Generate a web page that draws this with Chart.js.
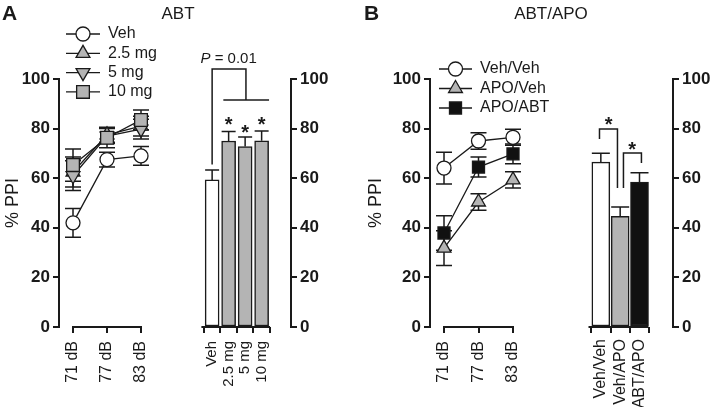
<!DOCTYPE html>
<html>
<head>
<meta charset="utf-8">
<script src="https://cdn.jsdelivr.net/npm/chart.js@4.4.1/dist/chart.umd.min.js"></script>
<style>
  body { margin: 0; background: #fff; }
  #wrap { position: relative; width: 712px; height: 408px; }
  #wrap canvas { position: absolute; left: 0; top: 0; }
</style>
</head>
<body>
<div id="wrap">
  <canvas id="abtLine" width="712" height="408"></canvas>
  <canvas id="abtBar" width="712" height="408"></canvas>
  <canvas id="apoLine" width="712" height="408"></canvas>
  <canvas id="apoBar" width="712" height="408"></canvas>
</div>
<script>
// tick labels
const dbLevels = ['71 dB', '77 dB', '83 dB'];
const doseLabels = ['Veh', '2.5 mg', '5 mg', '10 mg'];
const groupLabels = ['Veh/Veh', 'Veh/APO', 'ABT/APO'];
const pctTicks = [0, 20, 40, 60, 80, 100];

// A: % PPI per prepulse level (mean, SEM)
const vehPPI = [42, 67.5, 69];
const vehSEM = [5.8, 3, 3.8];
const mg25PPI = [62.5, 77.5, 81];
const mg25SEM = [6, 3, 4];
const mg5PPI = [61, 77, 79.8];
const mg5SEM = [6, 3, 4];
const mg10PPI = [65.3, 76.3, 83.5];
const mg10SEM = [6.5, 4, 4];

// A: mean % PPI over levels
const doseMean = [59.3, 75, 72.8, 75.1];
const doseSEM = [4, 3.8, 3.8, 3.9];

// B: % PPI per prepulse level
const vehVehPPI = [64.1, 75, 76.5];
const vehVehSEM = [6.4, 3.3, 3.2];
const apoVehPPI = [31.8, 50.4, 59.3];
const apoVehSEM = [7, 3.3, 3.3];
const apoAbtPPI = [37.9, 64.5, 69.8];
const apoAbtSEM = [7, 4, 4];

// B: mean % PPI
const groupMean = [66.5, 44.6, 58.4];
const groupSEM = [3.6, 3.8, 3.8];

const FONT = "'Liberation Sans', Arial, sans-serif";
const INK = '#1a1a1a';
const GRAY = '#b4b4b4';
const BLACK = '#111111';

const pts = arr => arr.map((v, i) => ({ x: i, y: v }));

// error bars: line charts get both whiskers behind the markers, bars only the upper one
function drawErrors(chart, kind) {
    const ctx = chart.ctx;
    const ys = chart.scales.y;
    chart.data.datasets.forEach((ds, i) => {
        const meta = chart.getDatasetMeta(i);
        if (!ds.sem || meta.type !== kind) return;
        ctx.save();
        ctx.strokeStyle = INK;
        ctx.lineWidth = 1.5;
        meta.data.forEach((el, j) => {
            const v = ds.data[j].y, e = ds.sem[j], half = ds.capHalf;
            const top = ys.getPixelForValue(v + e);
            const bot = kind === 'bar' ? el.y : ys.getPixelForValue(v - e);
            ctx.beginPath();
            ctx.moveTo(el.x, bot);
            ctx.lineTo(el.x, top);
            ctx.moveTo(el.x - half, top);
            ctx.lineTo(el.x + half, top);
            if (kind === 'line') {
                ctx.moveTo(el.x - half, bot);
                ctx.lineTo(el.x + half, bot);
            }
            ctx.stroke();
        });
        ctx.restore();
    });
}
const errorBars = {
    id: 'errorBars',
    beforeDatasetsDraw(chart) { drawErrors(chart, 'line'); },
    afterDatasetsDraw(chart) { drawErrors(chart, 'bar'); }
};

// legend with the line running through the marker
const lineKey = {
    id: 'lineKey',
    afterDraw(chart, args, o) {
        if (!o.x) return;
        const ctx = chart.ctx;
        ctx.save();
        chart.data.datasets.forEach((ds, i) => {
            const y = o.y + i * o.dy;
            ctx.strokeStyle = ds.borderColor;
            ctx.lineWidth = ds.borderWidth;
            ctx.beginPath();
            ctx.moveTo(o.x, y);
            ctx.lineTo(o.x + o.w, y);
            ctx.stroke();
            ctx.fillStyle = ds.pointBackgroundColor;
            ctx.strokeStyle = ds.pointBorderColor;
            ctx.lineWidth = ds.pointBorderWidth;
            Chart.helpers.drawPoint(ctx, {
                pointStyle: ds.pointStyle, radius: ds.pointRadius,
                rotation: ds.pointRotation || 0, borderWidth: ds.pointBorderWidth
            }, o.x + o.w / 2, y);
            ctx.fillStyle = INK;
            ctx.font = '16px ' + FONT;
            ctx.textBaseline = 'middle';
            ctx.textAlign = 'left';
            ctx.fillText(ds.label, o.x + o.w + 8, y);
        });
        ctx.restore();
    }
};

// detached x baseline, significance brackets, stars, panel texts
const marks = {
    id: 'marks',
    afterDraw(chart, args, o) {
        const ctx = chart.ctx, xs = chart.scales.x, ys = chart.scales.y;
        const X = v => xs.getPixelForValue(v), Y = v => ys.getPixelForValue(v);
        ctx.save();
        ctx.strokeStyle = INK;
        ctx.lineCap = 'square';
        ctx.lineWidth = 2;
        ctx.beginPath();
        ctx.moveTo(X(o.base[0]), Y(0));
        ctx.lineTo(X(o.base[1]), Y(0));
        ctx.stroke();
        ctx.lineCap = 'butt';
        ctx.lineWidth = 1.5;
        (o.paths || []).forEach(p => {
            ctx.beginPath();
            p.forEach(([x, y], k) => k ? ctx.lineTo(X(x), Y(y)) : ctx.moveTo(X(x), Y(y)));
            ctx.stroke();
        });
        ctx.fillStyle = INK;
        ctx.textAlign = 'center';
        ctx.textBaseline = 'alphabetic';
        ctx.font = 'bold 20px ' + FONT;
        (o.stars || []).forEach(([x, y]) => ctx.fillText('*', X(x), Y(y) + 0.57 * 20));
        if (o.pValue) {
            const [px, py] = o.pValue;
            ctx.textBaseline = 'middle';
            ctx.font = 'italic 15px ' + FONT;
            const w1 = ctx.measureText('P').width;
            ctx.font = '15px ' + FONT;
            const rest = ' = 0.01';
            const w2 = ctx.measureText(rest).width;
            const x0 = X(px) - (w1 + w2) / 2;
            ctx.textAlign = 'left';
            ctx.font = 'italic 15px ' + FONT;
            ctx.fillText('P', x0, Y(py));
            ctx.font = '15px ' + FONT;
            ctx.fillText(rest, x0 + w1, Y(py));
        }
        (o.texts || []).forEach(t => {
            ctx.font = t.font + ' ' + FONT;
            ctx.textAlign = t.align;
            ctx.textBaseline = 'middle';
            ctx.fillText(t.text, t.x, t.y);
        });
        ctx.restore();
    }
};

function yAxis(position, width, withTitle) {
    return {
        position, min: 0, max: 100,
        afterFit: s => { s.width = width; },
        afterBuildTicks: s => { s.ticks = pctTicks.map(v => ({ value: v })); },
        border: { color: INK, width: 2 },
        grid: { drawOnChartArea: false, color: INK, lineWidth: 2, tickLength: 6 },
        ticks: { color: INK, padding: 3, font: { family: FONT, size: 17, weight: 'bold' } },
        title: { display: withTitle, text: '% PPI', color: INK, padding: 0, font: { family: FONT, size: 18 } }
    };
}

function xAxis(labels, min, max, size, pad) {
    return {
        type: 'linear', min, max,
        afterFit: s => { s.height = 80; },
        afterBuildTicks: s => { s.ticks = labels.map((_, i) => ({ value: i })); },
        border: { display: false },
        grid: { drawOnChartArea: false, color: INK, lineWidth: 2, tickLength: 6 },
        ticks: {
            color: INK, padding: pad, autoSkip: false, minRotation: 90, maxRotation: 90,
            font: { family: FONT, size }, callback: v => labels[v]
        }
    };
}

function lineSet(label, values, sem, style, fill, radius, rotation, order) {
    return {
        label, data: pts(values), sem, capHalf: 8, order, clip: false,
        borderColor: INK, borderWidth: 1.3,
        pointStyle: style, pointRadius: radius, pointRotation: rotation,
        pointBackgroundColor: fill, pointBorderColor: INK, pointBorderWidth: 1.3
    };
}

function baseOptions(padding, scales, plugins) {
    return {
        responsive: false, animation: false,
        layout: { padding },
        scales,
        plugins: Object.assign({ legend: { display: false }, tooltip: { enabled: false } }, plugins)
    };
}

// A, left: PPI by prepulse level
new Chart(document.getElementById('abtLine'), {
    type: 'line',
    data: {
        datasets: [
            lineSet('Veh', vehPPI, vehSEM, 'circle', '#ffffff', 7, 0, 4),
            lineSet('2.5 mg', mg25PPI, mg25SEM, 'triangle', GRAY, 8, 0, 3),
            lineSet('5 mg', mg5PPI, mg5SEM, 'triangle', GRAY, 8, 180, 2),
            lineSet('10 mg', mg10PPI, mg10SEM, 'rect', GRAY, 9, 0, 1)
        ]
    },
    options: baseOptions({ left: 2, right: 561, top: 79, bottom: 1 }, {
        x: xAxis(dbLevels, -0.412, 2.294, 16, 8),
        y: yAxis('left', 57, true)
    }, {
        lineKey: { x: 66, w: 34, y: 34, dy: 19.3 },
        marks: {
            base: [0, 2],
            texts: [
                { text: 'A', x: 2, y: 14, font: 'bold 21px', align: 'left' },
                { text: 'ABT', x: 178, y: 14, font: '17px', align: 'center' }
            ]
        }
    }),
    plugins: [errorBars, lineKey, marks]
});

// A, right: mean PPI by dose
new Chart(document.getElementById('abtBar'), {
    type: 'bar',
    data: {
        datasets: [{
            data: pts(doseMean), sem: doseSEM, capHalf: 7,
            backgroundColor: ['#ffffff', GRAY, GRAY, GRAY],
            borderColor: INK, borderWidth: 1.5, borderSkipped: false, barThickness: 14
        }]
    },
    options: baseOptions({ left: 188, right: 381, top: 79, bottom: 1 }, {
        x: xAxis(doseLabels, -0.682, 4.0, 15, 8),
        y: yAxis('right', 40, false)
    }, {
        marks: {
            base: [-0.59, 3.45],
            paths: [
                [[0, 65.5], [0, 104], [2.05, 104], [2.05, 91.5]],
                [[0.68, 91.5], [3.45, 91.5]]
            ],
            stars: [[1, 83.5], [2, 80.5], [3, 83.5]],
            pValue: [1.0, 108]
        }
    }),
    plugins: [errorBars, marks]
});

// B, left: PPI by prepulse level
new Chart(document.getElementById('apoLine'), {
    type: 'line',
    data: {
        datasets: [
            lineSet('Veh/Veh', vehVehPPI, vehVehSEM, 'circle', '#ffffff', 7, 0, 3),
            lineSet('APO/Veh', apoVehPPI, apoVehSEM, 'triangle', GRAY, 8, 0, 1),
            lineSet('APO/ABT', apoAbtPPI, apoAbtSEM, 'rect', BLACK, 8.5, 0, 2)
        ]
    },
    options: baseOptions({ left: 365, right: 187, top: 79, bottom: 1 }, {
        x: xAxis(dbLevels, -0.406, 2.348, 16, 8),
        y: yAxis('left', 65, true)
    }, {
        lineKey: { x: 439, w: 33, y: 69, dy: 19.5 },
        marks: {
            base: [0, 2],
            texts: [
                { text: 'B', x: 364, y: 14, font: 'bold 21px', align: 'left' },
                { text: 'ABT/APO', x: 551, y: 14, font: '17px', align: 'center' }
            ]
        }
    }),
    plugins: [errorBars, lineKey, marks]
});

// B, right: mean PPI by group
new Chart(document.getElementById('apoBar'), {
    type: 'bar',
    data: {
        datasets: [{
            data: pts(groupMean), sem: groupSEM, capHalf: 9,
            backgroundColor: ['#ffffff', GRAY, BLACK],
            borderColor: INK, borderWidth: 1.5, borderSkipped: false, barThickness: 18
        }]
    },
    options: baseOptions({ left: 572, right: 1, top: 79, bottom: 1 }, {
        x: xAxis(groupLabels, -0.621, 2.862, 16, 6),
        y: yAxis('right', 38, false)
    }, {
        marks: {
            base: [-0.586, 2.41],
            paths: [
                [[-0.07, 75.8], [-0.07, 79.8], [0.86, 79.8], [0.86, 56]],
                [[1.17, 56], [1.17, 70.2], [2.1, 70.2], [2.1, 66.1]]
            ],
            stars: [[0.41, 83.5], [1.62, 73.4]]
        }
    }),
    plugins: [errorBars, marks]
});
</script>
</body>
</html>
